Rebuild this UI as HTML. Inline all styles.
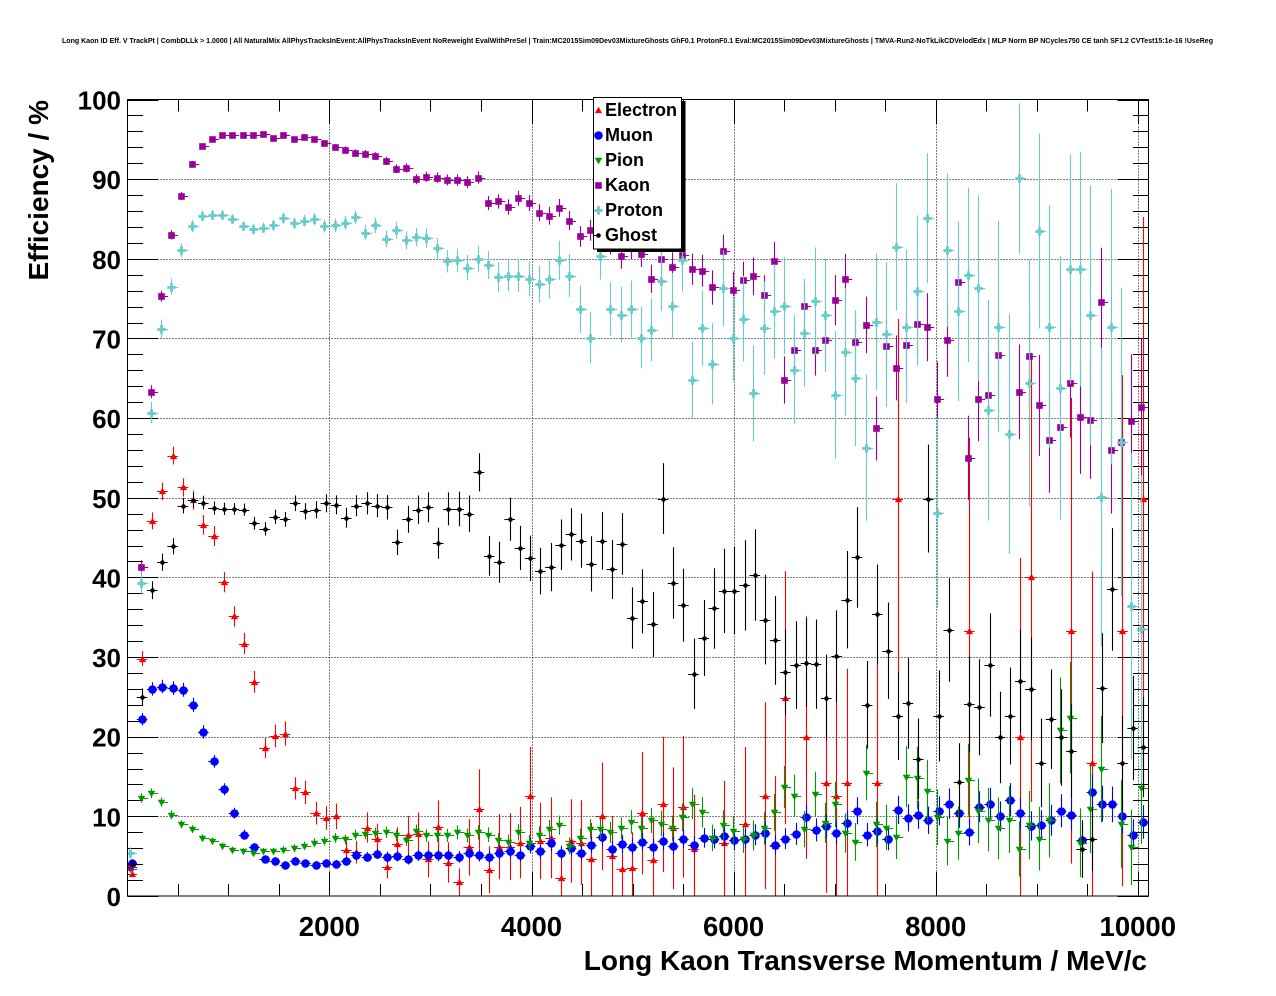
<!DOCTYPE html>
<html><head><meta charset="utf-8">
<style>
html,body{margin:0;padding:0;background:#fff;}
svg{display:block;font-family:"Liberation Sans",Arial,sans-serif;font-weight:bold;}
</style></head><body>
<svg id="c" xmlns="http://www.w3.org/2000/svg" width="1276" height="996" viewBox="0 0 1276 996">
<defs><clipPath id="clip"><rect x="127.3" y="99.3" width="1021" height="796.7"/></clipPath></defs>
<rect width="1276" height="996" fill="#fff"/>
<text x="62" y="43" font-size="7.5" textLength="1151" lengthAdjust="spacingAndGlyphs">Long Kaon ID Eff. V TrackPt | CombDLLk &gt; 1.0000 | All NaturalMix AllPhysTracksInEvent:AllPhysTracksInEvent NoReweight EvalWithPreSel | Train:MC2015Sim09Dev03MixtureGhosts GhF0.1 ProtonF0.1 Eval:MC2015Sim09Dev03MixtureGhosts | TMVA-Run2-NoTkLikCDVelodEdx | MLP Norm BP NCycles750 CE tanh SF1.2 CVTest15:1e-16 !UseReg</text>
<g id="grid" stroke="#000" stroke-width="1" stroke-dasharray="1,2" fill="none"></g>
<g id="ticks" stroke="#000" stroke-width="1" fill="none"></g>
<g id="data" clip-path="url(#clip)"></g>
<rect x="127.5" y="99.5" width="1021" height="796.5" fill="none" stroke="#000" stroke-width="1"/>
<g id="labels" font-size="26"></g>
<text transform="translate(48,100) rotate(-90)" text-anchor="end" font-size="28">Efficiency / %</text>
<text x="1147" y="970" text-anchor="end" font-size="28">Long Kaon Transverse Momentum / MeV/c</text>
<!-- legend -->
<rect x="681.5" y="101" width="4" height="151" fill="#000"/>
<rect x="597" y="248.5" width="88.5" height="3.5" fill="#000"/>
<rect x="593.5" y="97.5" width="88" height="151.5" fill="#fff" stroke="#000" stroke-width="1"/>
<g font-size="18">
<text x="605" y="116">Electron</text>
<text x="605" y="141">Muon</text>
<text x="605" y="166">Pion</text>
<text x="605" y="191">Kaon</text>
<text x="605" y="216">Proton</text>
<text x="605" y="241">Ghost</text>
</g>
<g id="legm"></g>
</svg>
<script>
(function(){
const NS="http://www.w3.org/2000/svg";
function el(p,t,a){const e=document.createElementNS(NS,t);for(const k in a)e.setAttribute(k,a[k]);p.appendChild(e);return e;}
const X0=127.5,X1=1148.5,Y0=896,Y1=99.5;
const xv=v=>127.3+v*0.10105;
const yv=v=>896-v*7.965;
const xk=k=>131.8+10.213*k;
const sn=v=>Math.round(v)+0.5;
// grid
const grid=document.getElementById('grid');
let d='';
for(let v=10;v<100;v+=10){const y=sn(yv(v));d+=`M${X0} ${y}H${X1}`;}
for(let v=2000;v<=10000;v+=2000){const x=sn(xv(v));d+=`M${x} ${Y1}V${Y0}`;}
el(grid,'path',{d:d});
// ticks
const tg=document.getElementById('ticks');
d='';
for(let v=0;v<=100;v+=2){const y=sn(yv(v));const L=(v%10==0)?31:15.5;d+=`M${X0} ${y}h${L}M${X1} ${y}h${-L}`;}
for(let v=0;v<=10000;v+=500){const x=sn(xv(v));const L=(v%2000==0)?24:12;d+=`M${x} ${Y0}v${-L}M${x} ${Y1}v${L}`;}
el(tg,'path',{d:d});
// labels
const lg=document.getElementById('labels');
for(let v=0;v<=100;v+=10){const t=el(lg,'text',{x:121,y:(yv(v)+10).toFixed(1),'text-anchor':'end','font-size':26});t.textContent=String(v);}
for(let v=2000;v<=10000;v+=2000){const t=el(lg,'text',{x:xv(v).toFixed(1),y:936,'text-anchor':'middle','font-size':27.5});t.textContent=String(v);}

const n=null;
const E=[2.8,29.8,47.1,50.8,55.3,51.3,49.7,46.6,45.2,39.4,
35.1,31.7,26.9,18.6,20.1,20.4,13.5,13.0,10.4,9.8,
10.0,5.8,5.5,8.6,7.2,3.7,6.5,7.6,7.8,4.6,
8.7,4.2,1.7,6.1,10.9,3.3,6.2,6.2,6.7,12.6,
6.9,7.3,2.3,6.9,6.7,4.6,10.0,5.0,3.4,3.5,
10.4,4.5,11.5,8.5,11.2,5.9,n,n,6.6,n,
9.1,n,12.6,6.3,24.9,n,19.9,n,14.2,12.6,
14.2,n,n,14.2,n,49.9,n,n,n,n,
n,n,33.3,n,n,n,n,19.9,40.0,n,
n,n,33.3,n,16.7,n,n,33.3,n,49.9];
const M=[4.2,22.2,26.0,26.3,26.1,25.9,24.0,20.6,16.9,13.4,
10.4,7.7,6.1,4.6,4.4,3.9,4.4,4.1,3.9,4.1,
4.0,4.4,5.1,4.9,5.3,4.9,5.0,4.6,5.1,5.1,
5.1,5.1,4.9,5.4,5.1,4.9,5.4,5.6,5.1,6.3,
5.6,6.6,5.4,6.0,5.4,6.4,7.4,5.9,6.5,6.2,
6.8,6.1,6.9,6.3,7.2,6.4,7.3,7.2,7.5,7.0,
7.2,7.7,7.9,6.4,7.2,7.8,9.9,8.3,8.8,7.9,
9.2,10.7,7.7,8.1,7.2,10.8,9.8,10.2,9.5,10.7,
11.6,10.4,8.0,11.2,11.6,10.0,12.1,10.4,8.8,8.9,
9.5,10.7,10.2,7.0,13.0,11.6,11.5,10.0,7.7,9.3];
const PI=[3.4,12.3,12.9,11.8,10.2,9.0,8.4,7.3,6.9,6.3,
5.8,5.6,5.4,5.6,5.6,5.8,6.0,6.3,6.7,6.9,
7.3,7.1,7.7,7.8,7.9,8.0,7.6,7.0,8.2,7.6,
7.6,7.6,8.0,7.6,8.0,7.7,7.0,6.8,8.0,6.7,
7.7,8.4,8.9,6.3,7.3,8.4,8.4,8.0,8.5,9.3,
8.5,9.5,9.1,8.5,9.9,11.6,10.5,7.3,8.9,8.2,
7.2,7.6,8.5,10.5,13.7,12.6,8.4,12.8,9.2,11.5,
7.9,6.8,15.5,9.0,8.6,7.4,15.0,14.8,13.2,9.9,
6.9,7.9,14.6,10.7,9.6,8.5,9.6,5.9,8.9,7.2,
9.5,20.8,22.4,6.7,10.9,15.9,n,9.0,6.1,13.5];
const K=[3.7,41.3,63.3,75.3,83.0,87.9,91.9,94.1,95.0,95.5,
95.6,95.6,95.6,95.7,95.2,95.5,95.0,95.3,95.0,94.5,
94.0,93.7,93.3,93.2,92.9,92.3,91.3,91.4,90.0,90.3,
90.2,89.9,89.9,89.6,90.2,87.0,87.2,86.5,87.6,87.0,
85.8,85.4,86.4,84.8,82.8,83.6,82.5,82.0,80.3,81.5,
80.6,77.5,80.0,79.0,80.5,78.7,78.5,76.4,81.0,76.1,
77.3,77.8,75.4,79.7,64.8,68.5,74.1,68.5,69.8,74.8,
77.5,69.5,71.7,58.7,69.1,66.3,69.2,71.8,71.4,62.4,
69.8,77.1,55.0,62.4,62.9,67.9,n,63.3,67.8,61.6,
57.3,58.9,64.4,60.2,59.8,74.6,56.0,57.0,59.6,61.4];
const P=[5.4,39.3,60.7,71.2,76.5,81.1,84.1,85.4,85.5,85.5,
85.0,84.1,83.7,83.9,84.2,85.1,84.5,84.8,85.0,84.1,
84.2,84.5,85.2,83.3,84.2,82.5,83.6,82.3,82.7,82.6,
81.3,79.7,79.8,78.9,80.0,79.2,77.7,77.9,77.9,77.5,
76.8,77.5,79.8,77.9,73.7,70.1,80.3,73.7,73.0,73.7,
70.1,71.1,77.2,74.1,79.8,64.8,71.3,66.8,76.3,70.0,
72.5,63.1,71.3,73.4,74.1,66.1,70.7,74.7,72.9,62.9,
68.3,65.0,56.3,72.1,70.5,81.5,71.5,76.0,85.1,48.1,
81.1,73.4,78.0,76.3,61.0,71.5,58.0,90.1,64.4,83.5,
71.5,63.8,78.7,78.7,72.9,50.1,71.5,57.0,36.4,33.5];
const G=[4.0,25.0,38.4,41.9,43.9,49.0,49.7,49.4,48.7,48.6,
48.6,48.5,46.8,46.1,47.6,47.3,49.3,48.3,48.5,49.3,
49.1,47.5,49.0,49.3,49.0,48.8,44.4,47.3,48.5,48.8,
44.3,48.6,48.6,48.0,53.2,42.7,41.9,47.3,43.7,42.4,
40.8,41.3,44.1,45.4,44.6,41.7,44.6,41.0,44.2,34.9,
37.0,34.1,49.9,39.3,36.5,27.9,32.4,36.1,38.3,38.3,
39.0,40.3,34.7,32.1,28.1,29.0,29.3,29.1,24.9,30.1,
37.2,42.5,24.0,35.4,30.8,22.6,24.2,17.2,49.9,22.6,
33.4,14.3,24.1,23.7,29.0,19.9,22.6,27.0,26.0,16.7,
22.2,19.9,18.2,5.9,7.1,26.1,38.5,16.7,21.1,18.7];

function Nk(an,k){for(let i=0;i<an.length-1;i++){const a=an[i],b=an[i+1];if(k>=a[0]&&k<=b[0]){const t=(k-a[0])/(b[0]-a[0]);return Math.exp(Math.log(a[1])*(1-t)+Math.log(b[1])*t);}}return an[an.length-1][1];}

function marker(g,type,x,y,col){
  switch(type){
    case 'tu': el(g,'polygon',{points:`${x},${y-3.8} ${x-3.6},${y+2.6} ${x+3.6},${y+2.6}`,fill:col});break;
    case 'td': el(g,'polygon',{points:`${x-3.8},${y-2.8} ${x+3.8},${y-2.8} ${x},${y+3.8}`,fill:col});break;
    case 'c': el(g,'circle',{cx:x,cy:y,r:4.3,fill:col});break;
    case 's': el(g,'rect',{x:x-3.3,y:y-3.3,width:6.6,height:6.6,fill:col});break;
    case 'x': {const a=4.2,b=1.4;el(g,'path',{d:`M${x-b} ${y-a}H${x+b}V${y-b}H${x+a}V${y+b}H${x+b}V${y+a}H${x-b}V${y+b}H${x-a}V${y-b}H${x-b}Z`,fill:col});break;}
    case 'd': el(g,'circle',{cx:x,cy:y,r:2.3,fill:col});break;
  }
}

const series=[
 {v:E,col:'#ff0000',m:'tu',dx:0,an:[[0,2500],[10,1400],[20,350],[34,39],[62,8],[99,2]]},
 {v:M,col:'#0000ff',m:'c',dx:0,an:[[0,3000],[10,2000],[40,630],[99,190]]},
 {v:PI,col:'#009900',m:'td',dx:-1.5,an:[[0,3000],[10,3340],[40,630],[99,24]]},
 {v:K,col:'#990099',m:'s',dx:-1.5,an:[[0,3000],[10,6600],[43,895],[95,41],[99,32]]},
 {v:P,col:'#66cccc',m:'x',dx:-1.5,an:[[0,1000],[10,4000],[30,900],[44,216],[87,10],[99,6]]},
 {v:G,col:'#000000',m:'d',dx:0,an:[[0,1500],[10,4760],[35,392],[60,74],[99,38]]}
];
const dg=document.getElementById('data');
series.forEach(s=>{
  const g=el(dg,'g',{});
  let pd='';
  const pts=[];
  for(let k=0;k<100;k++){
    const v=s.v[k]; if(v===null||v===undefined) continue;
    const N=Nk(s.an,k);
    const vv=Math.min(Math.max(v,0.8),99.2);
    const e=Math.sqrt(vv*(100-vv)/N);
    const hi=Math.min(100,v+e), lo=Math.max(0,v-e);
    const xc=xk(k), y=sn(yv(v));
    const mx=sn(xc+s.dx);
    if(s.dx!==0){
      pd+=`M${mx} ${y}H${(mx+6.7).toFixed(1)}`;
    } else {
      pd+=`M${(xc-5.3).toFixed(1)} ${y}H${(xc+5.3).toFixed(1)}`;
    }
    pd+=`M${mx} ${yv(hi).toFixed(1)}V${yv(lo).toFixed(1)}`;
    pts.push([mx,y]);
  }
  el(g,'path',{d:pd,stroke:s.col,'stroke-width':1.1,fill:'none'});
  pts.forEach(p=>marker(g,s.m,p[0],p[1],s.col));
});
// legend markers
const lm=document.getElementById('legm');
const ly=[110.5,135.5,160.5,185.5,210.5,235.5];
series.forEach((s,i)=>{marker(lm,s.m,598.5,ly[i],s.col);});
el(lm,'path',{d:'M594 235.5H597',stroke:'#000','stroke-width':1});
})();
</script>
</body></html>
